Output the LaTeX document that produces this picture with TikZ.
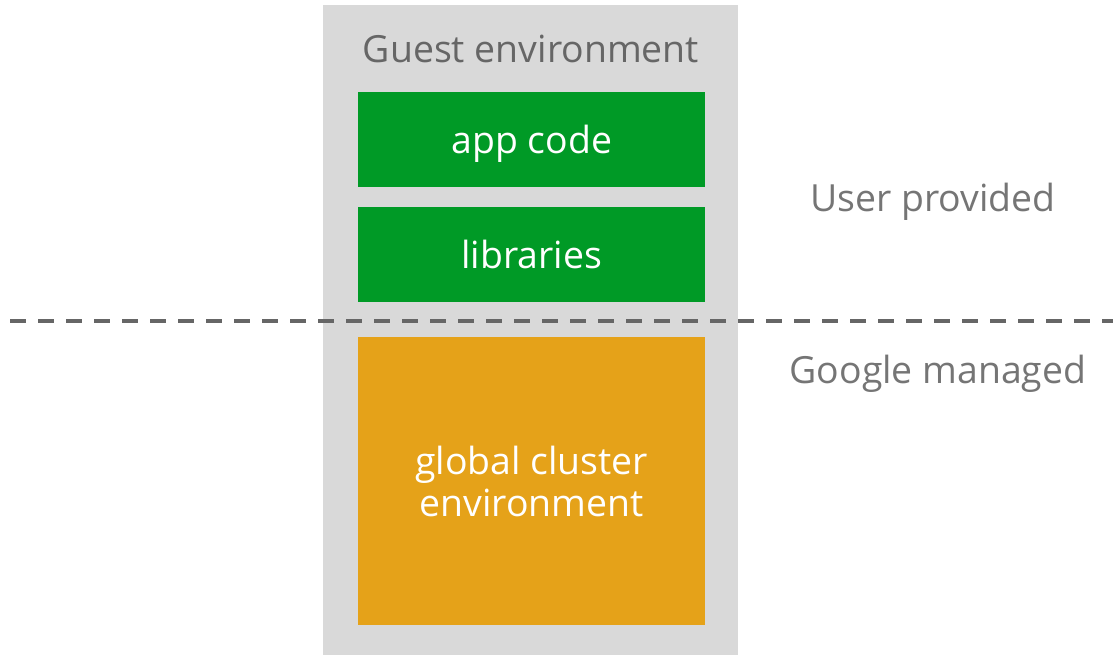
\documentclass[tikz,border=0pt]{standalone}
\usepackage{fontspec}
\setmainfont{Open Sans}
\definecolor{bggray}{HTML}{D9D9D9}
\definecolor{gGreen}{HTML}{009A26}
\definecolor{gOrange}{HTML}{E5A219}
\definecolor{titlegray}{HTML}{666666}
\definecolor{labelgray}{HTML}{757575}
\definecolor{dashgray}{HTML}{666666}
\begin{document}
\begin{tikzpicture}[x=1pt,y=-1pt,
  box/.style={draw=none,inner sep=0pt,anchor=north west,text=white,align=center,font=\fontsize{37.4}{42}\selectfont},
  lbl/.style={text=labelgray,font=\fontsize{37.4}{42}\selectfont,inner sep=0pt},
]
\useasboundingbox (0,0) rectangle (1113,655);
\fill[bggray] (323,5) rectangle (738,655);
\node[text=titlegray,font=\fontsize{37.4}{42}\selectfont,inner sep=0pt] (guest) at (531,49) {Guest environment};
\node[box,fill=gGreen,minimum width=347pt,minimum height=95pt,text height=36pt,text depth=9pt] (app) at (358,92) {app code};
\node[box,fill=gGreen,minimum width=347pt,minimum height=95pt] (lib) at (358,207) {libraries};
\node[box,fill=gOrange,minimum width=347pt,minimum height=288pt] (glob) at (358,337) {global cluster\\environment};
\coordinate (dl) at (10,321);
\coordinate (dr) at (1113,321);
\draw[dashgray,line width=4pt,dash pattern=on 16pt off 12pt] (dl) -- (dr);
\node[lbl] (user) at (933,202) {User provided};
\node[lbl] (google) at (938,374) {Google managed};
\end{tikzpicture}
\end{document}
